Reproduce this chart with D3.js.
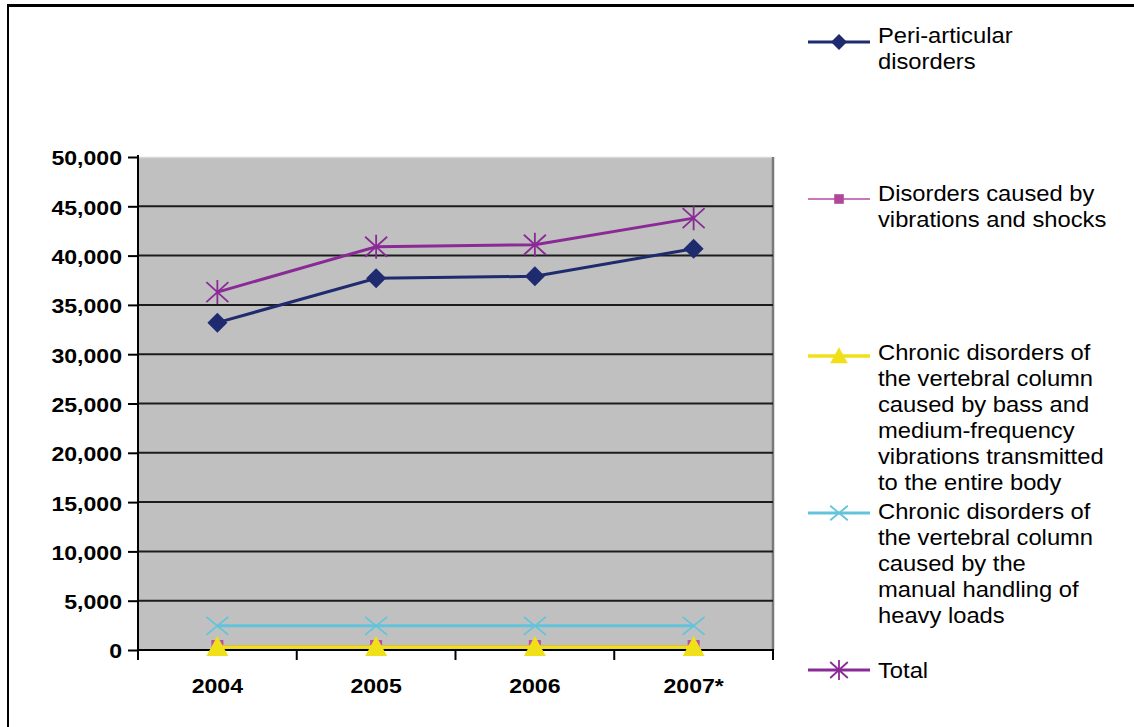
<!DOCTYPE html>
<html>
<head>
<meta charset="utf-8">
<script src="https://cdn.jsdelivr.net/npm/d3@7"></script>
<style>
  html, body { margin: 0; padding: 0; background: #fff; }
  svg { display: block; font-family: "Liberation Sans", Arial, sans-serif; }
</style>
</head>
<body>
<div id="chart"></div>
<script>
// categories and series values
const YEARS = ['2004', '2005', '2006', '2007*'];
const PERI_ARTICULAR = [33200, 37700, 37900, 40700];
const VIBRATIONS_SHOCKS = [400, 400, 400, 400];
const VERTEBRAL_BASS = [300, 300, 300, 300];
const VERTEBRAL_LOADS = [2450, 2450, 2450, 2450];
const TOTAL = [36300, 40900, 41100, 43800];
const Y_TICKS = [0, 5000, 10000, 15000, 20000, 25000, 30000, 35000, 40000, 45000, 50000];

const SERIES = [
  { label: ['Peri-articular', 'disorders'], values: PERI_ARTICULAR, color: '#1f2b6f', width: 3, marker: 'diamond' },
  { label: ['Disorders caused by', 'vibrations and shocks'], values: VIBRATIONS_SHOCKS, color: '#b8509f', legendColor: '#c878b8', width: 2, marker: 'square' },
  { label: ['Chronic disorders of', 'the vertebral column', 'caused by bass and', 'medium-frequency', 'vibrations transmitted', 'to the entire body'], values: VERTEBRAL_BASS, color: '#f0e01a', width: 3.5, marker: 'triangle' },
  { label: ['Chronic disorders of', 'the vertebral column', 'caused by the', 'manual handling of', 'heavy loads'], values: VERTEBRAL_LOADS, color: '#62c4da', width: 3, marker: 'cross' },
  { label: ['Total'], values: TOTAL, color: '#8a2a96', width: 3, marker: 'star' }
];

const W = 1134, H = 727;
const PLOT = { left: 138, right: 773, top: 157, bottom: 650 };

const svg = d3.select('#chart').append('svg').attr('width', W).attr('height', H);

// outer frame (top and left only)
svg.append('line').attr('x1', 7).attr('x2', W).attr('y1', 5.5).attr('y2', 5.5)
  .attr('stroke', '#000').attr('stroke-width', 3);
svg.append('line').attr('x1', 8).attr('x2', 8).attr('y1', 4).attr('y2', H)
  .attr('stroke', '#000').attr('stroke-width', 2);

const x = d3.scaleBand().domain(YEARS).range([PLOT.left, PLOT.right]).padding(0);
const y = d3.scaleLinear().domain([0, 50000]).range([PLOT.bottom, PLOT.top]);
const cx = d => x(d) + x.bandwidth() / 2;

// plot area
svg.append('rect')
  .attr('x', PLOT.left).attr('y', PLOT.top)
  .attr('width', PLOT.right - PLOT.left).attr('height', PLOT.bottom - PLOT.top)
  .attr('fill', '#c0c0c0');
svg.append('line').attr('x1', PLOT.left).attr('x2', PLOT.right)
  .attr('y1', PLOT.top + 0.5).attr('y2', PLOT.top + 0.5)
  .attr('stroke', '#d8d8d8').attr('stroke-width', 1.5);
svg.append('line').attr('x1', PLOT.right).attr('x2', PLOT.right)
  .attr('y1', PLOT.top).attr('y2', PLOT.bottom)
  .attr('stroke', '#7a7a7a').attr('stroke-width', 2.5);

// gridlines
svg.append('g').selectAll('line')
  .data(Y_TICKS.filter(v => v > 0 && v < 50000))
  .enter().append('line')
  .attr('x1', PLOT.left).attr('x2', PLOT.right)
  .attr('y1', d => y(d)).attr('y2', d => y(d))
  .attr('stroke', '#1c1c1c').attr('stroke-width', 2);

const TXT_SX = 1.1;

// y axis
const yAxis = svg.append('g')
  .attr('transform', `translate(${PLOT.left},0)`)
  .call(d3.axisLeft(y).tickValues(Y_TICKS).tickSize(10).tickSizeOuter(0).tickPadding(6)
    .tickFormat(d3.format(',')));
yAxis.select('.domain').attr('stroke', '#000').attr('stroke-width', 2)
  .attr('d', `M0,${PLOT.top - 2}V${PLOT.bottom + 10}`);
yAxis.selectAll('.tick line').attr('stroke', '#000').attr('stroke-width', 2);
yAxis.selectAll('.tick text')
  .attr('font-size', 21).attr('font-weight', 'bold').attr('fill', '#000')
  .attr('dy', '0.38em')
  .attr('x', -16 / TXT_SX)
  .attr('transform', `scale(${TXT_SX},1)`);

// x axis
svg.append('line').attr('x1', PLOT.left).attr('x2', PLOT.right + 1)
  .attr('y1', PLOT.bottom).attr('y2', PLOT.bottom)
  .attr('stroke', '#000').attr('stroke-width', 2);
const xEdges = YEARS.map(d => x(d)).concat([x(YEARS[YEARS.length - 1]) + x.bandwidth()]);
svg.append('g').selectAll('line').data(xEdges.slice(1)).enter().append('line')
  .attr('x1', d => d).attr('x2', d => d)
  .attr('y1', PLOT.bottom).attr('y2', PLOT.bottom + 10)
  .attr('stroke', '#000').attr('stroke-width', 2);
svg.append('g').selectAll('text').data(YEARS).enter().append('text')
  .attr('transform', d => `translate(${cx(d)},${PLOT.bottom + 43}) scale(${TXT_SX},1)`)
  .attr('text-anchor', 'middle')
  .attr('font-size', 21).attr('font-weight', 'bold').attr('fill', '#000')
  .text(d => d);

// markers
function drawMarker(g, type, color, px, py, k = 1) {
  if (type === 'diamond') {
    const r = 10 * k;
    g.append('path').attr('d', `M${px},${py - r}L${px + r},${py}L${px},${py + r}L${px - r},${py}Z`)
      .attr('fill', color);
  } else if (type === 'square') {
    const r = 6 * k;
    g.append('rect').attr('x', px - r).attr('y', py - r).attr('width', 2 * r).attr('height', 2 * r)
      .attr('fill', color);
  } else if (type === 'triangle') {
    g.append('path').attr('d', `M${px},${py - 11 * k}L${px + 11 * k},${py + 9 * k}L${px - 11 * k},${py + 9 * k}Z`)
      .attr('fill', color);
  } else if (type === 'cross') {
    const a = 11 * k, b = 9 * k;
    g.append('path').attr('d', `M${px - a},${py - b}L${px + a},${py + b}M${px - a},${py + b}L${px + a},${py - b}`)
      .attr('stroke', color).attr('stroke-width', 1.8).attr('fill', 'none');
  } else if (type === 'star') {
    const a = 11 * k, b = 10 * k;
    g.append('path').attr('d', `M${px - a},${py - b}L${px + a},${py + b}M${px - a},${py + b}L${px + a},${py - b}M${px},${py - b - 2}V${py + b + 2}`)
      .attr('stroke', color).attr('stroke-width', 1.8).attr('fill', 'none');
  }
}

const line = d3.line().x((d, i) => cx(YEARS[i])).y(d => y(d));

SERIES.forEach(s => {
  const g = svg.append('g');
  g.append('path').datum(s.values)
    .attr('d', line)
    .attr('fill', 'none').attr('stroke', s.color).attr('stroke-width', s.width);
  s.values.forEach((v, i) => drawMarker(g, s.marker, s.color, cx(YEARS[i]), y(v)));
});

// legend
const LEG_FONT = 22, LEG_SX = 1.08, LEG_LH = 26;
const legLineY = i => 42 + i * 157;
const legTextY = i => 35 + i * 158.75;
const legend = svg.append('g');
SERIES.forEach((s, i) => {
  const ly = legLineY(i);
  const c = s.legendColor || s.color;
  legend.append('line').attr('x1', 808).attr('x2', 870).attr('y1', ly).attr('y2', ly)
    .attr('stroke', c).attr('stroke-width', s.width);
  drawMarker(legend, s.marker, s.marker === 'square' ? '#b04898' : c, 839, ly, 0.8);
  const t = legend.append('text')
    .attr('transform', `translate(878,${legTextY(i)}) scale(${LEG_SX},1)`)
    .attr('font-size', LEG_FONT).attr('fill', '#000');
  s.label.forEach((ln, j) => {
    t.append('tspan').attr('x', 0).attr('y', j * LEG_LH).attr('dy', '0.35em').text(ln);
  });
});
</script>
</body>
</html>
